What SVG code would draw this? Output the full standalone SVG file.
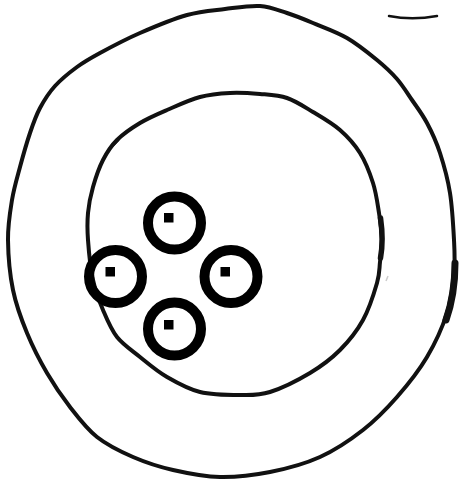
<svg xmlns="http://www.w3.org/2000/svg" width="460" height="480" viewBox="0 0 460 480">
<style>
.ring{fill:none;stroke:#111;stroke-width:4;stroke-linejoin:round;stroke-linecap:round}
.mark{fill:none;stroke:#111;stroke-linecap:round}
.cell{fill:none;stroke:#000;stroke-width:10}
.dot{fill:#000}
</style>
<rect width="460" height="480" fill="#fff"/>
<path class="ring" d="M260,6 C270.3,6.7 278.2,10.2 287,13 C295.8,15.8 303,18.8 313,23 C323,27.2 336.3,31.8 347,38 C357.7,44.2 368.7,53.2 377,60 C385.3,66.8 391.2,72.3 397,79 C402.8,85.7 407,92.7 412,100 C417,107.3 422.3,114.2 427,123 C431.7,131.8 436.2,141.3 440,153 C443.8,164.7 447.7,178.5 450,193 C452.3,207.5 453.3,226.7 454,240 C454.7,253.3 455.2,260.8 454,273 C452.8,285.2 451.5,299 447,313 C442.5,327 435.3,343 427,357 C418.7,371 407.7,384.8 397,397 C386.3,409.2 375.8,420 363,430 C350.2,440 335.5,450 320,457 C304.5,464 286.7,468.7 270,472 C253.3,475.3 236.2,477.3 220,477 C203.8,476.7 187.5,473.3 173,470 C158.5,466.7 145.7,462.5 133,457 C120.3,451.5 107.5,445.3 97,437 C86.5,428.7 78.3,417.7 70,407 C61.7,396.3 54.2,385.3 47,373 C39.8,360.7 32.7,346.8 27,333 C21.3,319.2 16.2,305.5 13,290 C9.8,274.5 8.2,255 8,240 C7.8,225 10,212.2 12,200 C14,187.8 17,178.2 20,167 C23,155.8 26.7,142.8 30,133 C33.3,123.2 35.8,115.8 40,108 C44.2,100.2 48.8,92.8 55,86 C61.2,79.2 69.5,72.5 77,67 C84.5,61.5 89.5,58.7 100,53 C110.5,47.3 125.5,39.3 140,33 C154.5,26.7 172.8,19 187,15 C201.2,11 212.8,10.5 225,9 C237.2,7.5 249.7,5.3 260,6 Z"/>
<path class="ring" d="M230,93 C240,92.5 250.5,93.2 260,94 C269.5,94.8 278.2,95 287,98 C295.8,101 304.2,106.7 313,112 C321.8,117.3 332.2,123.2 340,130 C347.8,136.8 354.5,144.2 360,153 C365.5,161.8 369.8,173 373,183 C376.2,193 377.5,203.5 379,213 C380.5,222.5 381.8,231.8 382,240 C382.2,248.2 380.8,254.8 380,262 C379.2,269.2 379.8,273.3 377,283 C374.2,292.7 369.2,308.8 363,320 C356.8,331.2 348.8,341.2 340,350 C331.2,358.8 321.7,366 310,373 C298.3,380 281.7,388.3 270,392 C258.3,395.7 251.7,395 240,395 C228.3,395 212.2,395 200,392 C187.8,389 177,382.8 167,377 C157,371.2 148.3,363.7 140,357 C131.7,350.3 123.2,344.8 117,337 C110.8,329.2 107,319.5 103,310 C99,300.5 95.5,291.7 93,280 C90.5,268.3 88.8,251.2 88,240 C87.2,228.8 87.2,221.8 88,213 C88.8,204.2 90.5,195.8 93,187 C95.5,178.2 99,167.8 103,160 C107,152.2 110.8,146.2 117,140 C123.2,133.8 131.7,128 140,123 C148.3,118 157,114.3 167,110 C177,105.7 189.5,99.8 200,97 C210.5,94.2 220,93.5 230,93 Z"/>
<path class="mark" stroke-width="7" d="M455,263 C455,285 452,303 446,320"/>
<path class="mark" stroke-width="5.5" d="M380.5,218 C382.5,232 382.5,247 380.5,258"/>
<path class="mark" stroke-width="3" d="M113,145 L118,140"/>
<path d="M388,276 L386,281" fill="none" stroke="#ccc" stroke-width="1.5"/>
<path class="mark" stroke-width="2.5" stroke="#222" d="M389,16 Q412,20.5 437,16"/>
<circle class="cell" cx="174.5" cy="223" r="26.5"/>
<circle class="cell" cx="115.5" cy="276.5" r="26.5"/>
<circle class="cell" cx="231" cy="276.5" r="26.5"/>
<circle class="cell" cx="174.5" cy="329" r="26.5"/>
<rect class="dot" x="164" y="213" width="9.5" height="9.5"/>
<rect class="dot" x="105.5" y="267" width="9.5" height="9.5"/>
<rect class="dot" x="220.5" y="267" width="9.5" height="9.5"/>
<rect class="dot" x="164" y="320" width="9.5" height="9.5"/>
</svg>
